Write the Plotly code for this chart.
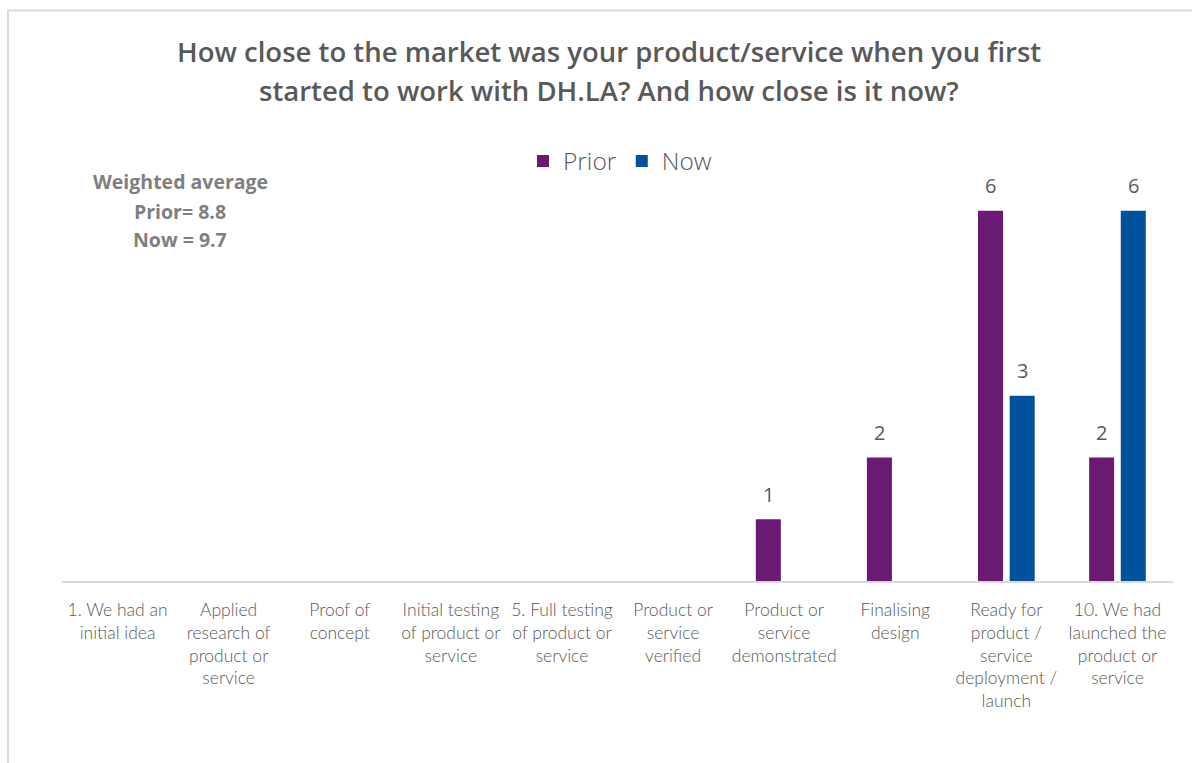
import plotly.graph_objects as go

# Readiness stages (x axis) and respondent counts per stage
stages = [
    "1. We had an<br>initial idea",
    "Applied<br>research of<br>product or<br>service",
    "Proof of<br>concept",
    "Initial testing<br>of product or<br>service",
    "5. Full testing<br>of product or<br>service",
    "Product or<br>service<br>verified",
    "Product or<br>service<br>demonstrated",
    "Finalising<br>design",
    "Ready for<br>product /<br>service<br>deployment /<br>launch",
    "10. We had<br>launched the<br>product or<br>service",
]
prior_counts = [0, 0, 0, 0, 0, 0, 1, 2, 6, 2]
now_counts = [0, 0, 0, 0, 0, 0, 0, 0, 3, 6]

series_names = ["Prior", "Now"]
series_colors = ["#6B1A74", "#00529C"]

avg_lines = ["Weighted average", "Prior= 8.8", "Now = 9.7"]
title_lines = [
    "How close to the market was your product/service when you first",
    "started to work with DH.LA? And how close is it now?",
]

W, H = 1192, 763
L, R, T, B = 62, 19, 149, 182
Y_MAX = 7
BARGAP = 0.43
GROUPGAP = 0.21

GREY = "#595959"
FONT = "Open Sans"


def px_x(p):
    return (p - L) / (W - L - R)


def px_y(p):
    return (H - B - p) / (H - T - B)


fig = go.Figure()
for name, vals, col in zip(series_names, [prior_counts, now_counts], series_colors):
    fig.add_trace(go.Bar(
        name=name, x=stages, y=vals,
        marker=dict(color=col, line=dict(width=0)),
        hoverinfo="skip",
    ))

# Value labels above each non-zero bar
slot = (1 - BARGAP) / 2
annotations = []
for k, vals in enumerate([prior_counts, now_counts]):
    off = (k - 0.5) * slot
    for i, v in enumerate(vals):
        if v:
            annotations.append(dict(
                x=i + off, y=v, xref="x", yref="y", text=str(v),
                showarrow=False, yanchor="middle", yshift=25,
                font=dict(family=FONT, size=20, color=GREY),
            ))

# Title, two centred lines
for txt, yc in zip(title_lines, [51, 91]):
    annotations.append(dict(
        x=px_x(609), y=px_y(yc), xref="paper", yref="paper", text=txt,
        showarrow=False, xanchor="center", yanchor="middle",
        font=dict(family=FONT, size=27.5, color=GREY, weight=600),
    ))

# Weighted average note
for txt, yc in zip(avg_lines, [182, 211, 239]):
    annotations.append(dict(
        x=px_x(180), y=px_y(yc), xref="paper", yref="paper", text=txt,
        showarrow=False, xanchor="center", yanchor="middle",
        font=dict(family=FONT, size=19.5, color="#7F7F7F", weight="bold"),
    ))

fig.update_layout(
    width=W, height=H,
    margin=dict(l=L, r=R, t=T, b=B),
    paper_bgcolor="white", plot_bgcolor="white",
    barmode="group", bargap=BARGAP, bargroupgap=GROUPGAP,
    font=dict(family=FONT, color=GREY),
    showlegend=True,
    legend=dict(
        orientation="h", x=px_x(620), y=px_y(161),
        xanchor="center", yanchor="middle",
        font=dict(family=FONT, size=24.5, color=GREY, weight=300),
        itemclick=False, itemdoubleclick=False,
        traceorder="normal",
    ),
    xaxis=dict(
        type="category", showgrid=False, zeroline=False,
        showline=True, linecolor="#D9D9D9", linewidth=2,
        ticks="", tickfont=dict(family="Lato", size=17.5, color=GREY, weight=300),
        tickangle=0, ticklabelstandoff=12,
    ),
    yaxis=dict(
        range=[0, Y_MAX], visible=False, showgrid=False, zeroline=False,
    ),
    annotations=annotations,
    shapes=[dict(
        type="rect", xref="paper", yref="paper",
        x0=px_x(8), x1=px_x(1210), y0=px_y(790), y1=px_y(10.5),
        line=dict(color="#D9D9D9", width=2), fillcolor="rgba(0,0,0,0)",
        layer="below",
    )],
)

fig.write_html("out.html")
